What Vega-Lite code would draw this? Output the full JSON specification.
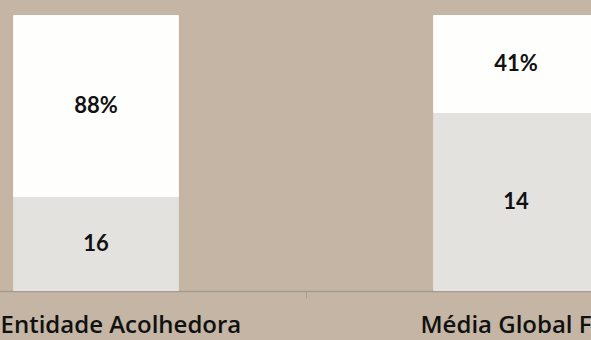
{
  "$schema": "https://vega.github.io/schema/vega-lite/v6.json",
  "width": 591,
  "height": 276,
  "autosize": {"type": "none"},
  "padding": {"left": 0, "top": 15, "right": 0, "bottom": 49},
  "background": "#c4b5a4",
  "config": {"view": {"stroke": null}},
  "data": {
    "values": [
      {"categoria": "Entidade Acolhedora", "segmento": "base", "ordem": 1, "valor": 34, "rotulo": "16"},
      {"categoria": "Entidade Acolhedora", "segmento": "topo", "ordem": 2, "valor": 66, "rotulo": "88%"},
      {"categoria": "Média Global F", "segmento": "base", "ordem": 1, "valor": 64.5, "rotulo": "14"},
      {"categoria": "Média Global F", "segmento": "topo", "ordem": 2, "valor": 35.5, "rotulo": "41%"}
    ]
  },
  "encoding": {
    "x": {
      "field": "categoria",
      "type": "nominal",
      "sort": null,
      "scale": {"range": [-114, 726], "paddingInner": 0.605, "paddingOuter": 0.3025},
      "axis": {
        "title": null,
        "labelAngle": 0,
        "labelAlign": "left",
        "tickOffset": -210,
        "labelOffset": 114,
        "labelFont": "Open Sans",
        "labelFontSize": 24,
        "labelFontWeight": 600,
        "labelColor": "#111111",
        "labelPadding": 15,
        "labelLimit": 0,
        "tickSize": 7,
        "tickColor": "#a39b92",
        "domainColor": "#a39b92",
        "domainWidth": 1.5,
        "labelOverlap": false,
        "labelBound": false,
        "labelFlush": false
      }
    },
    "order": {"field": "ordem", "type": "quantitative"}
  },
  "layer": [
    {
      "mark": {"type": "bar", "cornerRadius": 1},
      "encoding": {
        "y": {"field": "valor", "type": "quantitative", "stack": "normalize", "scale": {"domain": [0, 1]}, "axis": null},
        "color": {"field": "segmento", "type": "nominal", "scale": {"domain": ["base", "topo"], "range": ["#e4e2df", "#fefefc"]}, "legend": null}
      }
    },
    {
      "mark": {"type": "text", "font": "Lato", "fontSize": 22, "fontWeight": "bold", "color": "#111111", "baseline": "middle"},
      "encoding": {
        "y": {"field": "valor", "type": "quantitative", "stack": "normalize", "bandPosition": 0.5, "scale": {"domain": [0, 1]}, "axis": null},
        "text": {"field": "rotulo"}
      }
    }
  ]
}
